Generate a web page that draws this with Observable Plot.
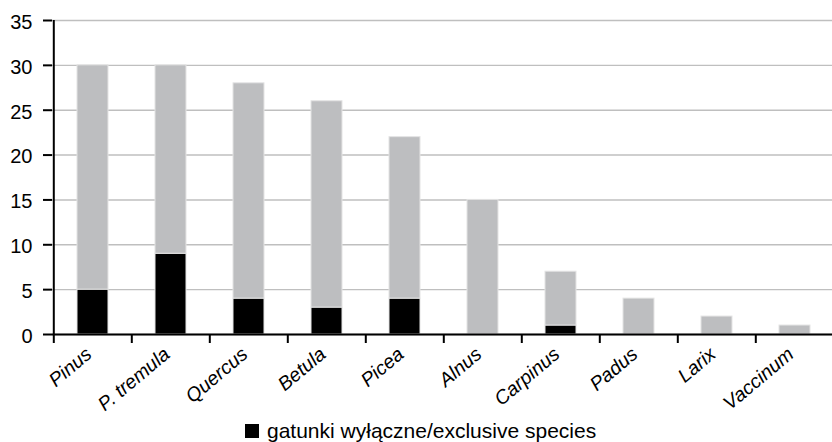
<!DOCTYPE html>
<html>
<head>
<meta charset="utf-8">
<script src="https://cdn.jsdelivr.net/npm/d3@7"></script>
<script src="https://cdn.jsdelivr.net/npm/@observablehq/plot@0.6"></script>
<style>
  html, body { margin: 0; padding: 0; background: #fff; }
  #wrap { position: relative; width: 832px; height: 442px; font-family: "Liberation Sans", Arial, sans-serif; }
  #legend { position: absolute; left: 245px; top: 419px; display: flex; align-items: center; font-size: 21px; line-height: 24px; color: #000; white-space: nowrap; }
  #legend .sw { width: 14px; height: 14px; background: #000; margin-right: 8px; }
  #chart svg g[aria-label="y-axis tick label"] text { font-size: 20px; font-family: "Liberation Sans", Arial, sans-serif; }
  #chart svg g[aria-label="x-axis tick label"] text { font-size: 19.5px; font-family: "Liberation Sans", Arial, sans-serif; font-style: italic; }
</style>
</head>
<body>
<div id="wrap">
  <div id="chart"></div>
  <div id="legend"><div class="sw"></div><span>gatunki wyłączne/exclusive species</span></div>
</div>
<script>
const species = ["Pinus", "P. tremula", "Quercus", "Betula", "Picea", "Alnus", "Carpinus", "Padus", "Larix", "Vaccinum"];
const totals = [30, 30, 28, 26, 22, 15, 7, 4, 2, 1];
const exclusive = [5, 9, 4, 3, 4, 0, 1, 0, 0, 0];
const yTicks = [0, 5, 10, 15, 20, 25, 30, 35];
const groups = ["exclusive", "other"];

const rows = [];
species.forEach((s, i) => {
  rows.push({species: s, group: "exclusive", value: exclusive[i]});
  rows.push({species: s, group: "other", value: totals[i] - exclusive[i]});
});

const W = 832, H = 416;
const xLeft = 52, xRight = 836;
const step = (xRight - xLeft) / species.length;

const chart = Plot.plot({
  width: W,
  height: H,
  marginLeft: xLeft,
  marginRight: 0,
  marginTop: 20,
  marginBottom: H - 334,
  style: {fontFamily: "'Liberation Sans', Arial, sans-serif", fontSize: "20px", color: "#000", background: "#fff", overflow: "visible"},
  x: {type: "band", domain: species, range: [xLeft, xRight], paddingInner: 0.6, paddingOuter: 0.3, label: null},
  y: {domain: [0, 35], label: null},
  color: {domain: groups, range: ["#000000", "#bdbec0"]},
  marks: [
    Plot.ruleY(yTicks, {stroke: "#bfbfbf", strokeWidth: 1.4}),
    Plot.barY(rows, {x: "species", y: "value", fill: "group", stroke: "#e4e4e4", strokeWidth: 1}),
    Plot.ruleY([0], {stroke: "#000", strokeWidth: 2}),
    Plot.ruleX([species[0]], {y1: 0, y2: 35, dx: -step / 2, stroke: "#000", strokeWidth: 2}),
    Plot.axisY({ticks: yTicks, tickSize: 9, tickFormat: () => "", strokeWidth: 2, stroke: "#000", label: null}),
    Plot.axisY({ticks: yTicks, tickSize: 0, tickPadding: 20, fontSize: 20, dy: 2, label: null}),
    Plot.axisX({tickSize: 9, tickFormat: () => "", dx: -step / 2, strokeWidth: 2, stroke: "#000", label: null}),
    Plot.axisX({tickSize: 0, tickPadding: 17, dx: -4, tickRotate: -40, fontSize: 19.5, fontStyle: "italic", label: null})
  ]
});
document.getElementById("chart").appendChild(chart);
</script>
</body>
</html>
